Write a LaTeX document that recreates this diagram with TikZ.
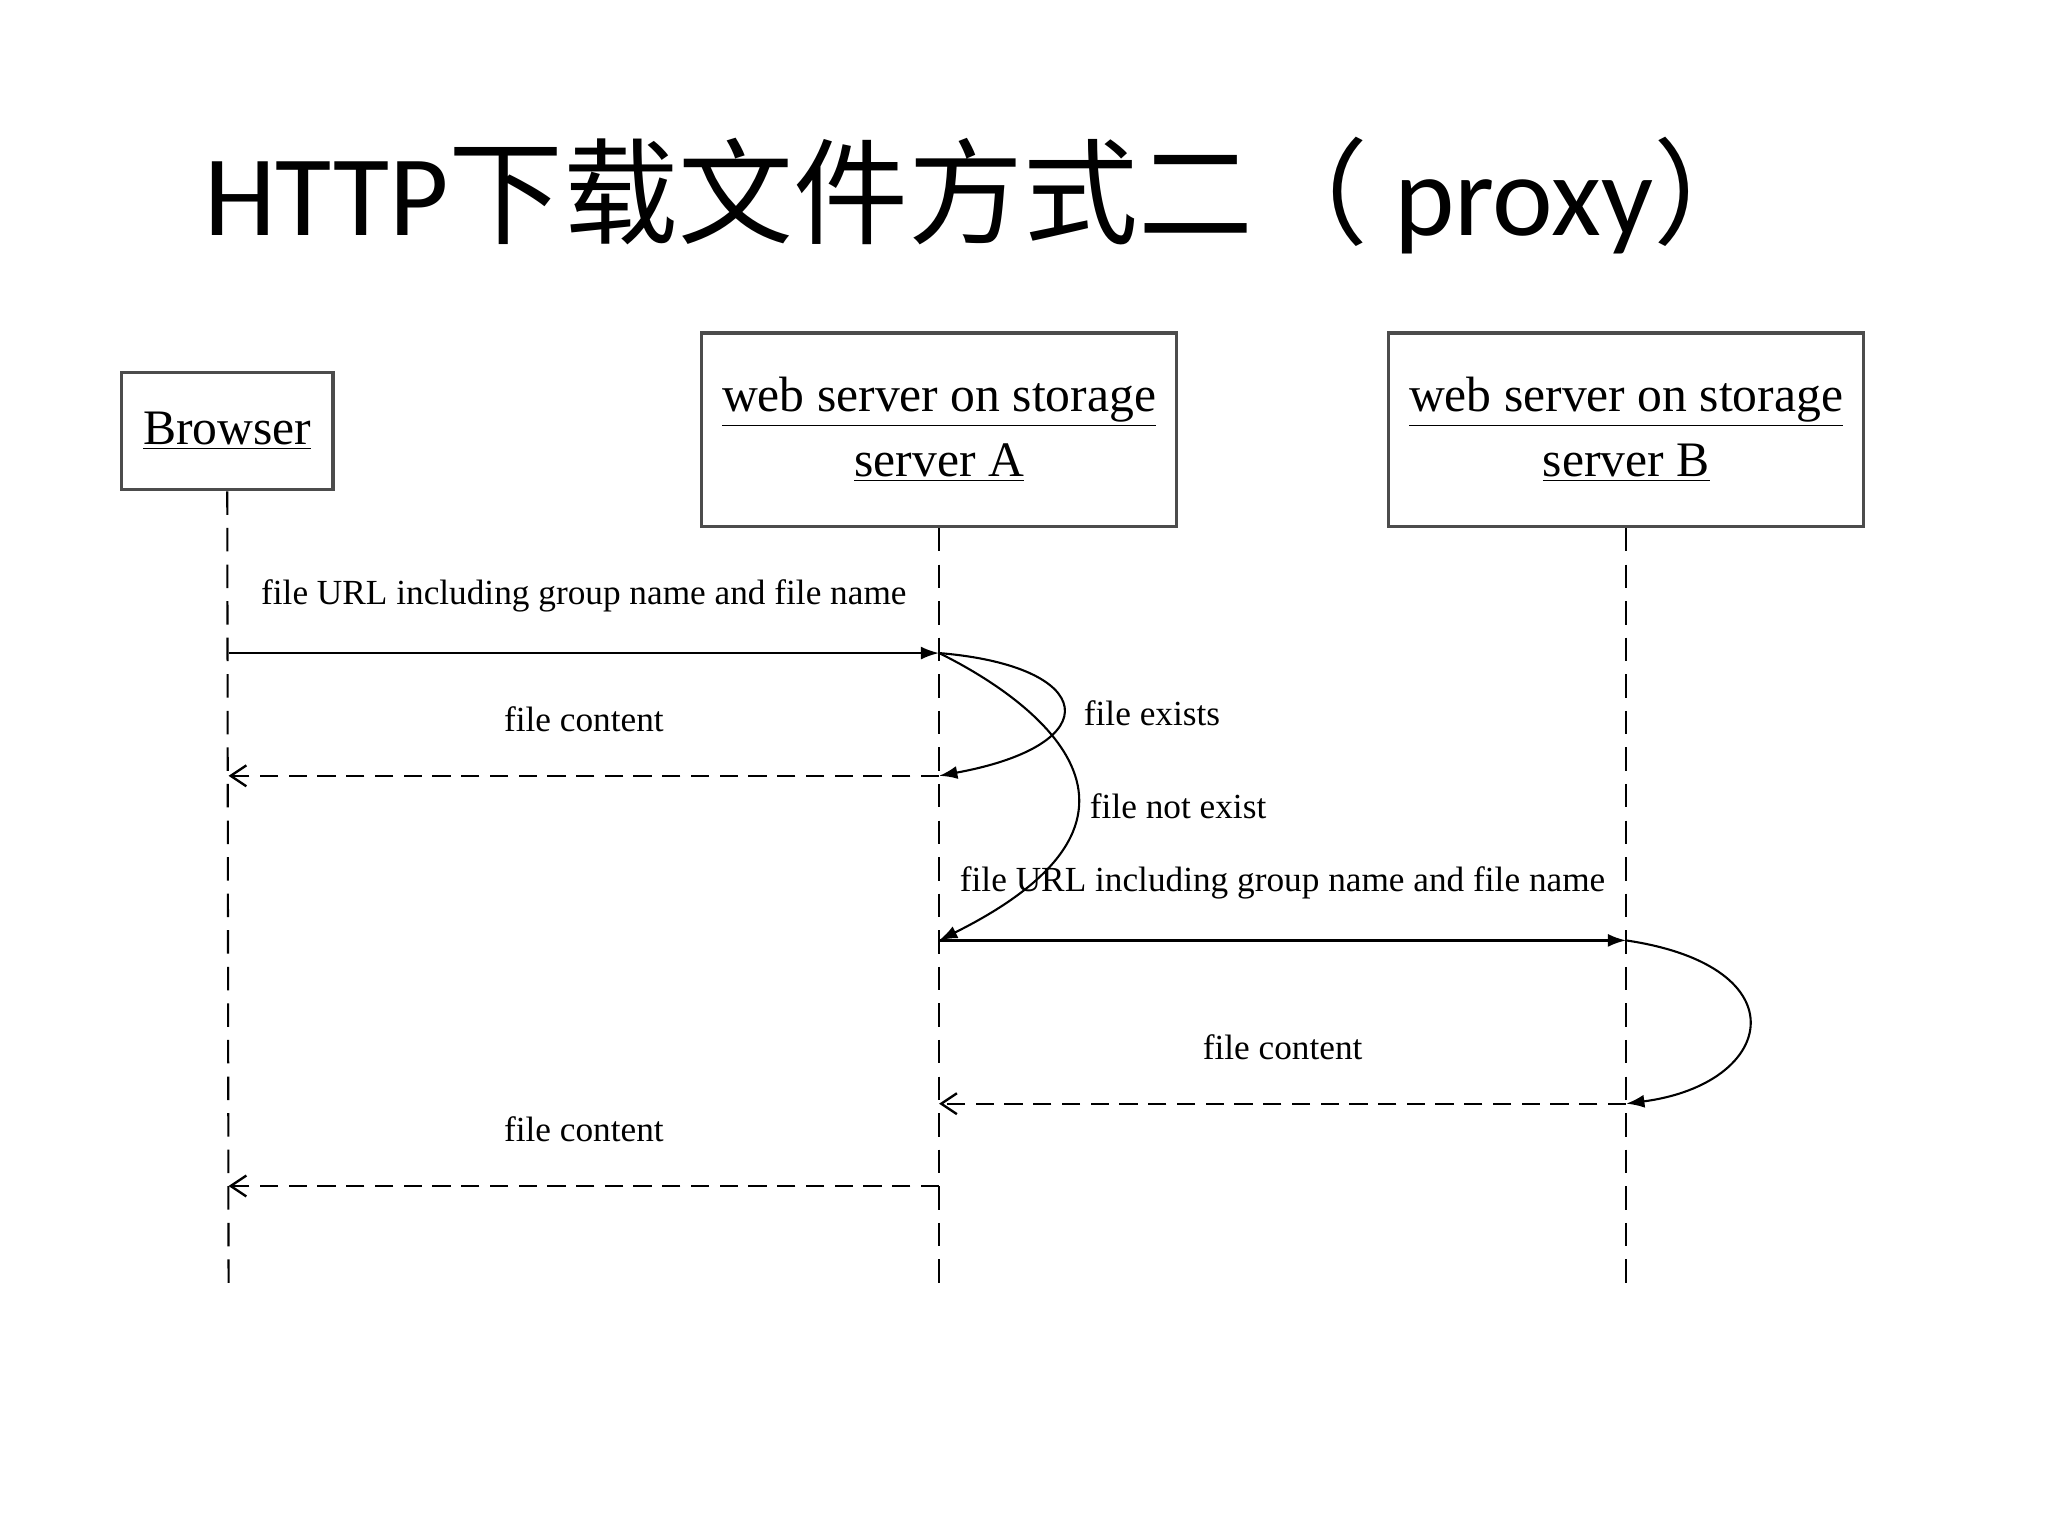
\documentclass[tikz,border=0pt]{standalone}
\usepackage{fontspec}
\setmainfont{Liberation Serif}
\newfontfamily\cjk{Noto Sans CJK SC}
\newfontfamily\titlesans{Carlito}
\usetikzlibrary{arrows.meta}
\begin{document}
\begin{tikzpicture}[x=0.5pt,y=-0.5pt,
  actor/.style={draw=black!70,line width=1.2pt,fill=white,align=center,font=\fontsize{19}{23}\selectfont,inner sep=0pt},
  life/.style={dashed,dash pattern=on 9pt off 5pt,line width=0.8pt},
  msg/.style={line width=0.9pt,-{Latex[length=7pt,width=5pt]}},
  ret/.style={line width=0.9pt,dashed,dash pattern=on 7pt off 4pt,-{Straight Barb[length=6pt,width=8pt]}},
  lbl/.style={font=\fontsize{13.5}{16}\selectfont}]
\useasboundingbox (0,0) rectangle (1568,1176);
\node (title) at (755,150) {\fontsize{44}{50}\selectfont\titlesans HTTP\cjk 下载文件方式二（\titlesans\ proxy\cjk ）};
\node[actor,minimum width=81pt,minimum height=45pt] (br) at (174,330) {\underline{Browser}};
\node[actor,minimum width=182pt,minimum height=74pt] (sa) at (719,329) {\underline{web server on storage}\\[2pt]\underline{server A}};
\node[actor,minimum width=182pt,minimum height=74pt] (sb) at (1245,329) {\underline{web server on storage}\\[2pt]\underline{server B}};
\coordinate (bE) at (175,985); \coordinate (aE) at (719,985); \coordinate (bbE) at (1245,985);
\draw[life] (br.south) -- (bE);
\draw[life] (sa.south) -- (aE);
\draw[life] (sb.south) -- (bbE);
\coordinate (b1) at (175,500); \coordinate (a1) at (719,500);
\coordinate (b2) at (175,594); \coordinate (a2) at (719,594);
\coordinate (a3) at (719,720); \coordinate (c3) at (1245,720);
\coordinate (a4) at (719,845); \coordinate (c4) at (1245,845);
\coordinate (b5) at (175,908); \coordinate (a5) at (719,908);
\draw[msg] (b1) -- node[lbl,above=12pt] (l1) {file URL including group name and file name} (a1);
\draw[ret] (a2) -- node[lbl,above=13pt] (l2) {file content} (b2);
\draw[line width=0.8pt,-{Latex[length=7pt,width=5pt]}] (a1) .. controls (840,510) and (850,570) .. (a2);
\draw[line width=0.8pt,-{Latex[length=7pt,width=5pt]}] (a1) .. controls (780,530) and (920,620) .. (a3);
\node[lbl] (fe) at (882,546) {file exists};
\node[lbl] (fn) at (902,617) {file not exist};
\draw[msg] (a3) -- node[lbl,above=12pt] (l3) {file URL including group name and file name} (c3);
\draw[line width=0.8pt,-{Latex[length=7pt,width=5pt]}] (c3) .. controls (1380,740) and (1360,830) .. (c4);
\draw[ret] (c4) -- node[lbl,above=13pt] (l4) {file content} (a4);
\draw[ret] (a5) -- node[lbl,above=13pt] (l5) {file content} (b5);
\end{tikzpicture}
\end{document}
